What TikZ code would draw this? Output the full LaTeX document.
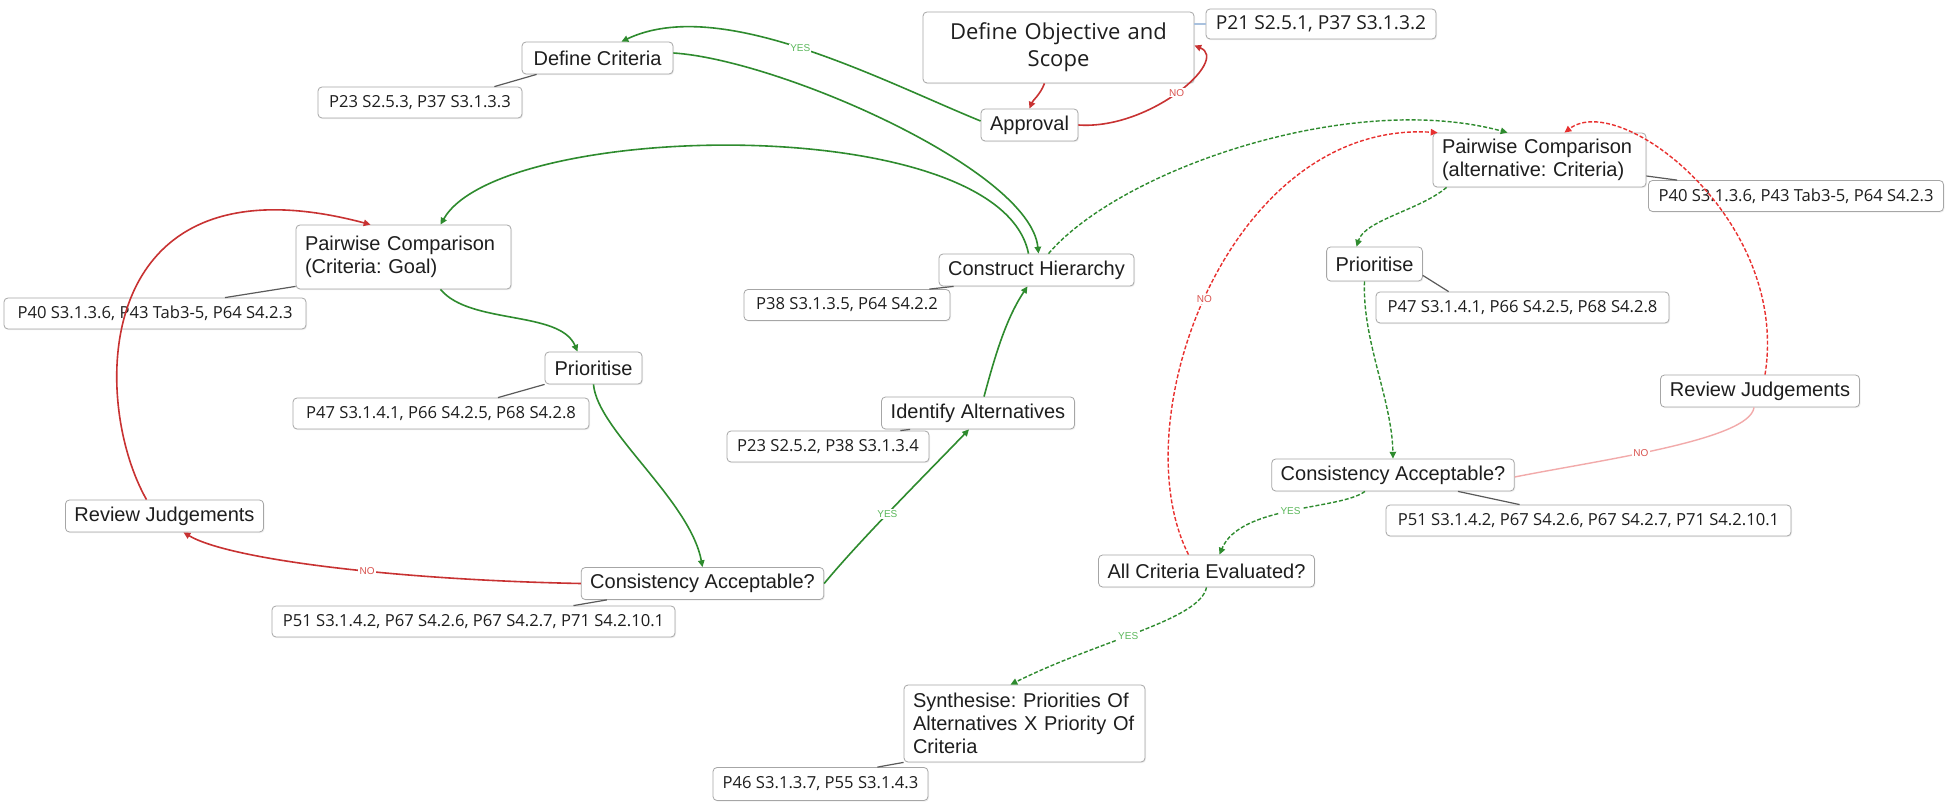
\documentclass[tikz,border=0pt]{standalone}
\usepackage{fontspec}
\setmainfont{Liberation Sans}
\newfontfamily\reffont{Open Sans}
\usepackage{tikz}
\usetikzlibrary{arrows.meta, calc, shadows}
\definecolor{flowgreen}{HTML}{2E8B2E}
\definecolor{flowred}{HTML}{C83232}
\definecolor{dashred}{HTML}{E8302F}
\definecolor{nopink}{HTML}{F2AAAA}
\definecolor{yesgreen}{HTML}{5CB85C}
\definecolor{nored}{HTML}{D9534F}
\definecolor{boxgray}{HTML}{A6A6A6}
\definecolor{textdark}{HTML}{1E1E1E}
\definecolor{linkgray}{HTML}{5A5A5A}
\definecolor{linkblue}{HTML}{A9C1DE}
\frenchspacing

\begin{document}
\begin{tikzpicture}[x=0.5pt, y=-0.5pt,
    task/.style={draw=boxgray, fill=white, rounded corners=2pt, text=textdark,
                 font=\fontsize{10}{11.5}\selectfont, inner xsep=4.5pt, inner ysep=2pt,
                 minimum height=16pt, minimum width=#1,
                 drop shadow={opacity=0.12, shadow xshift=0.5pt, shadow yshift=-0.6pt}},
    refbox/.style={draw=boxgray, fill=white, rounded corners=2pt, text=textdark,
                   font=\reffont\fontsize{8.3}{10}\selectfont, inner sep=2pt,
                   minimum height=15.5pt, minimum width=#1,
                   drop shadow={opacity=0.12, shadow xshift=0.5pt, shadow yshift=-0.6pt}},
    flow/.style={-{Triangle[length=3.4pt, width=3.2pt]}, line width=0.8pt, flowgreen},
    flowdash/.style={flow, line width=0.7pt, dash pattern=on 2pt off 1pt},
    back/.style={-{Triangle[length=3.4pt, width=3.2pt]}, line width=0.8pt, flowred},
    backdash/.style={back, dashred, line width=0.7pt, dash pattern=on 2pt off 1pt},
    nolink/.style={nopink, line width=0.7pt},
    reflink/.style={linkgray, line width=0.6pt},
    yeslbl/.style={font=\fontsize{5}{6}\selectfont, text=yesgreen, fill=white, inner sep=0.6pt},
    nolbl/.style={font=\fontsize{5}{6}\selectfont, text=nored, fill=white, inner sep=0.6pt},
]
    \fill[white] (0,0) rectangle (1950,802);
    \useasboundingbox (0,0) rectangle (1950,802);

    % === scope ===
    \node[task=135.5pt, minimum height=35.5pt, text width=126pt, align=center,
          font=\reffont\fontsize{11}{13.5}\selectfont] (defobj) at (1058.5,47.5) {Define Objective and\\Scope};
    \node[refbox=115pt, minimum height=15pt, font=\reffont\fontsize{9.6}{11}\selectfont] (refobj) at (1321,24) {P21 S2.5.1, P37 S3.1.3.2};
    \node[task=48.5pt] (approval) at (1029.5,125) {Approval};
    \node[task=75.5pt] (defcrit) at (597.5,58) {Define Criteria};
    \node[refbox=102pt] (refcrit) at (420,102.5) {P23 S2.5.3, P37 S3.1.3.3};

    % === criteria ===
    \node[task=107.5pt, minimum height=32pt, text width=98.5pt, align=left] (pcgoal) at (403.5,257) {Pairwise Comparison\\(Criteria: Goal)};
    \node[refbox=151pt] (refpcgoal) at (155,313.5) {P40 S3.1.3.6, P43 Tab3-5, P64 S4.2.3};
    \node[task=48.5pt] (priol) at (593.5,368) {Prioritise};
    \node[refbox=148pt] (refpriol) at (441,413.5) {P47 S3.1.4.1, P66 S4.2.5, P68 S4.2.8};
    \node[task=120.5pt] (consl) at (702.5,583.5) {Consistency Acceptable?};
    \node[refbox=201.5pt] (refconsl) at (473.5,621.5) {P51 S3.1.4.2, P67 S4.2.6, P67 S4.2.7, P71 S4.2.10.1};
    \node[task=99pt] (revl) at (164.5,516) {Review Judgements};

    % === hierarchy ===
    \node[task=97.5pt] (constr) at (1036.5,270) {Construct Hierarchy};
    \node[refbox=103pt] (refconstr) at (847,305) {P38 S3.1.3.5, P64 S4.2.2};
    \node[task=96.5pt] (identalt) at (978,413) {Identify Alternatives};
    \node[refbox=101pt] (refident) at (828,446.5) {P23 S2.5.2, P38 S3.1.3.4};

    % === alternatives ===
    \node[task=106.5pt, minimum height=27pt, text width=97.5pt, align=left] (pcalt) at (1539.5,160) {Pairwise Comparison\\(alternative: Criteria)};
    \node[refbox=147.5pt] (refpcalt) at (1796,196) {P40 S3.1.3.6, P43 Tab3-5, P64 S4.2.3};
    \node[task=47pt, minimum height=17pt] (prior) at (1374.5,264) {Prioritise};
    \node[refbox=146.5pt] (refprior) at (1522.5,307.5) {P47 S3.1.4.1, P66 S4.2.5, P68 S4.2.8};
    \node[task=120pt] (consr) at (1393,475) {Consistency Acceptable?};
    \node[refbox=202.5pt] (refconsr) at (1588.5,520.5) {P51 S3.1.4.2, P67 S4.2.6, P67 S4.2.7, P71 S4.2.10.1};
    \node[task=99.5pt] (revr) at (1760,391) {Review Judgements};
    \node[task=107.5pt] (allcrit) at (1206.5,571) {All Criteria Evaluated?};
    \node[task=120.5pt, minimum height=38.5pt, text width=111.5pt, align=left] (synth) at (1024.5,723.5) {Synthesise: Priorities Of\\Alternatives X Priority Of\\Criteria};
    \node[refbox=107.5pt, minimum height=16.5pt] (refsynth) at (820.5,784) {P46 S3.1.3.7, P55 S3.1.4.3};

    % Reference links
    \draw[linkblue, line width=0.6pt] (defobj.east |- refobj.west) -- (refobj.west);
    \draw[reflink] ($(defcrit.south west)+(15,0)$) -- ($(refcrit.north east)+(-28,0)$);
    \draw[reflink] ($(pcgoal.south west)+(0,-3)$) -- ($(refpcgoal.north)+(70,0)$);
    \draw[reflink] (priol.south west) -- ($(refpriol.north)+(57,0)$);
    \draw[reflink] ($(consl.south west)+(26,0)$) -- ($(refconsl.north)+(100,0)$);
    \draw[reflink] ($(constr.south west)+(15,0)$) -- ($(refconstr.north east)+(-21,0)$);
    \draw[reflink] ($(identalt.south west)+(29,0)$) -- ($(refident.north east)+(-29,0)$);
    \draw[reflink] ($(pcalt.east)+(0,16)$) -- ($(refpcalt.north west)+(29,0)$);
    \draw[reflink] ($(prior.south east)+(0,-6)$) -- ($(refprior.north west)+(73,0)$);
    \draw[reflink] ($(consr.south)+(65,0)$) -- ($(refconsr.north west)+(134,0)$);
    \draw[reflink] (synth.south west) -- ($(refsynth.north east)+(-51,0)$);

    % === scope flow ===
    \draw[back] ($(defobj.south)+(-14,0)$) .. controls (1040,95) and (1033,100) .. (approval.north);
    \draw[back] (approval.east) .. controls (1150,130) and (1230,60) .. node[nolbl]{NO} ($(defobj.east)+(0,-2)$);
    \draw[flow] ($(approval.west)+(0,-4)$) .. controls (880,80) and (720,-5) .. node[yeslbl]{YES} ($(defcrit.north)+(24,0)$);
    \draw[flow] ($(defcrit.east)+(0,-5)$) .. controls (780,60) and (1030,170) .. ($(constr.north)+(2,0)$);

    % === criteria loop ===
    \draw[flow] ($(constr.north)+(-8,0)$) .. controls (1000,110) and (500,120) .. ($(pcgoal.north)+(37,0)$);
    \draw[flow] ($(pcgoal.south)+(37,0)$) .. controls (470,325) and (560,310) .. ($(priol.north)+(-16,0)$);
    \draw[flow] (priol.south) .. controls (597,430) and (690,500) .. (consl.north);
    \draw[flow] (consl.east) .. controls (860,540) and (930,470) .. node[yeslbl, pos=0.45]{YES} ($(identalt.south)+(-9,0)$);
    \draw[flow] ($(identalt.north)+(6,0)$) .. controls (994,360) and (1005,320) .. ($(constr.south)+(-9,0)$);
    \draw[back] (consl.west) .. controls (400,580) and (230,560) .. node[nolbl, pos=0.42]{NO} ($(revl.south)+(19,0)$);
    \draw[back] ($(revl.north)+(-18,0)$) .. controls (90,400) and (90,150) .. ($(pcgoal.north)+(-33,0)$);

    % === alternatives loop ===
    \draw[flowdash] ($(constr.north)+(12,0)$) .. controls (1120,170) and (1350,90) .. ($(pcalt.north)+(-32,0)$);
    \draw[flowdash] ($(pcalt.south west)+(14,0)$) .. controls (1420,210) and (1365,220) .. ($(prior.north)+(-18,0)$);
    \draw[flowdash] ($(prior.south)+(-10,0)$) .. controls (1362,340) and (1392,400) .. (consr.north);
    \draw[flowdash] ($(consr.south)+(-28,0)$) .. controls (1340,510) and (1240,505) .. node[yeslbl]{YES} ($(allcrit.north)+(13,0)$);
    \draw[flowdash] (allcrit.south) .. controls (1200,620) and (1100,640) .. node[yeslbl, pos=0.55]{YES} ($(synth.north)+(-14,0)$);
    \draw[backdash] ($(allcrit.north)+(-18,0)$) .. controls (1120,420) and (1230,120) .. node[nolbl, pos=0.48]{NO} ($(pcalt.north west)+(5,0)$);
    \draw[backdash] ($(revr.north)+(5,0)$) .. controls (1790,220) and (1620,90) .. ($(pcalt.north)+(25,0)$);
    \draw[nolink] ($(consr.east)+(0,2)$) .. controls (1600,460) and (1750,440) .. node[nolbl, pos=0.42]{NO} ($(revr.south)+(-6,0)$);
\end{tikzpicture}
\end{document}
